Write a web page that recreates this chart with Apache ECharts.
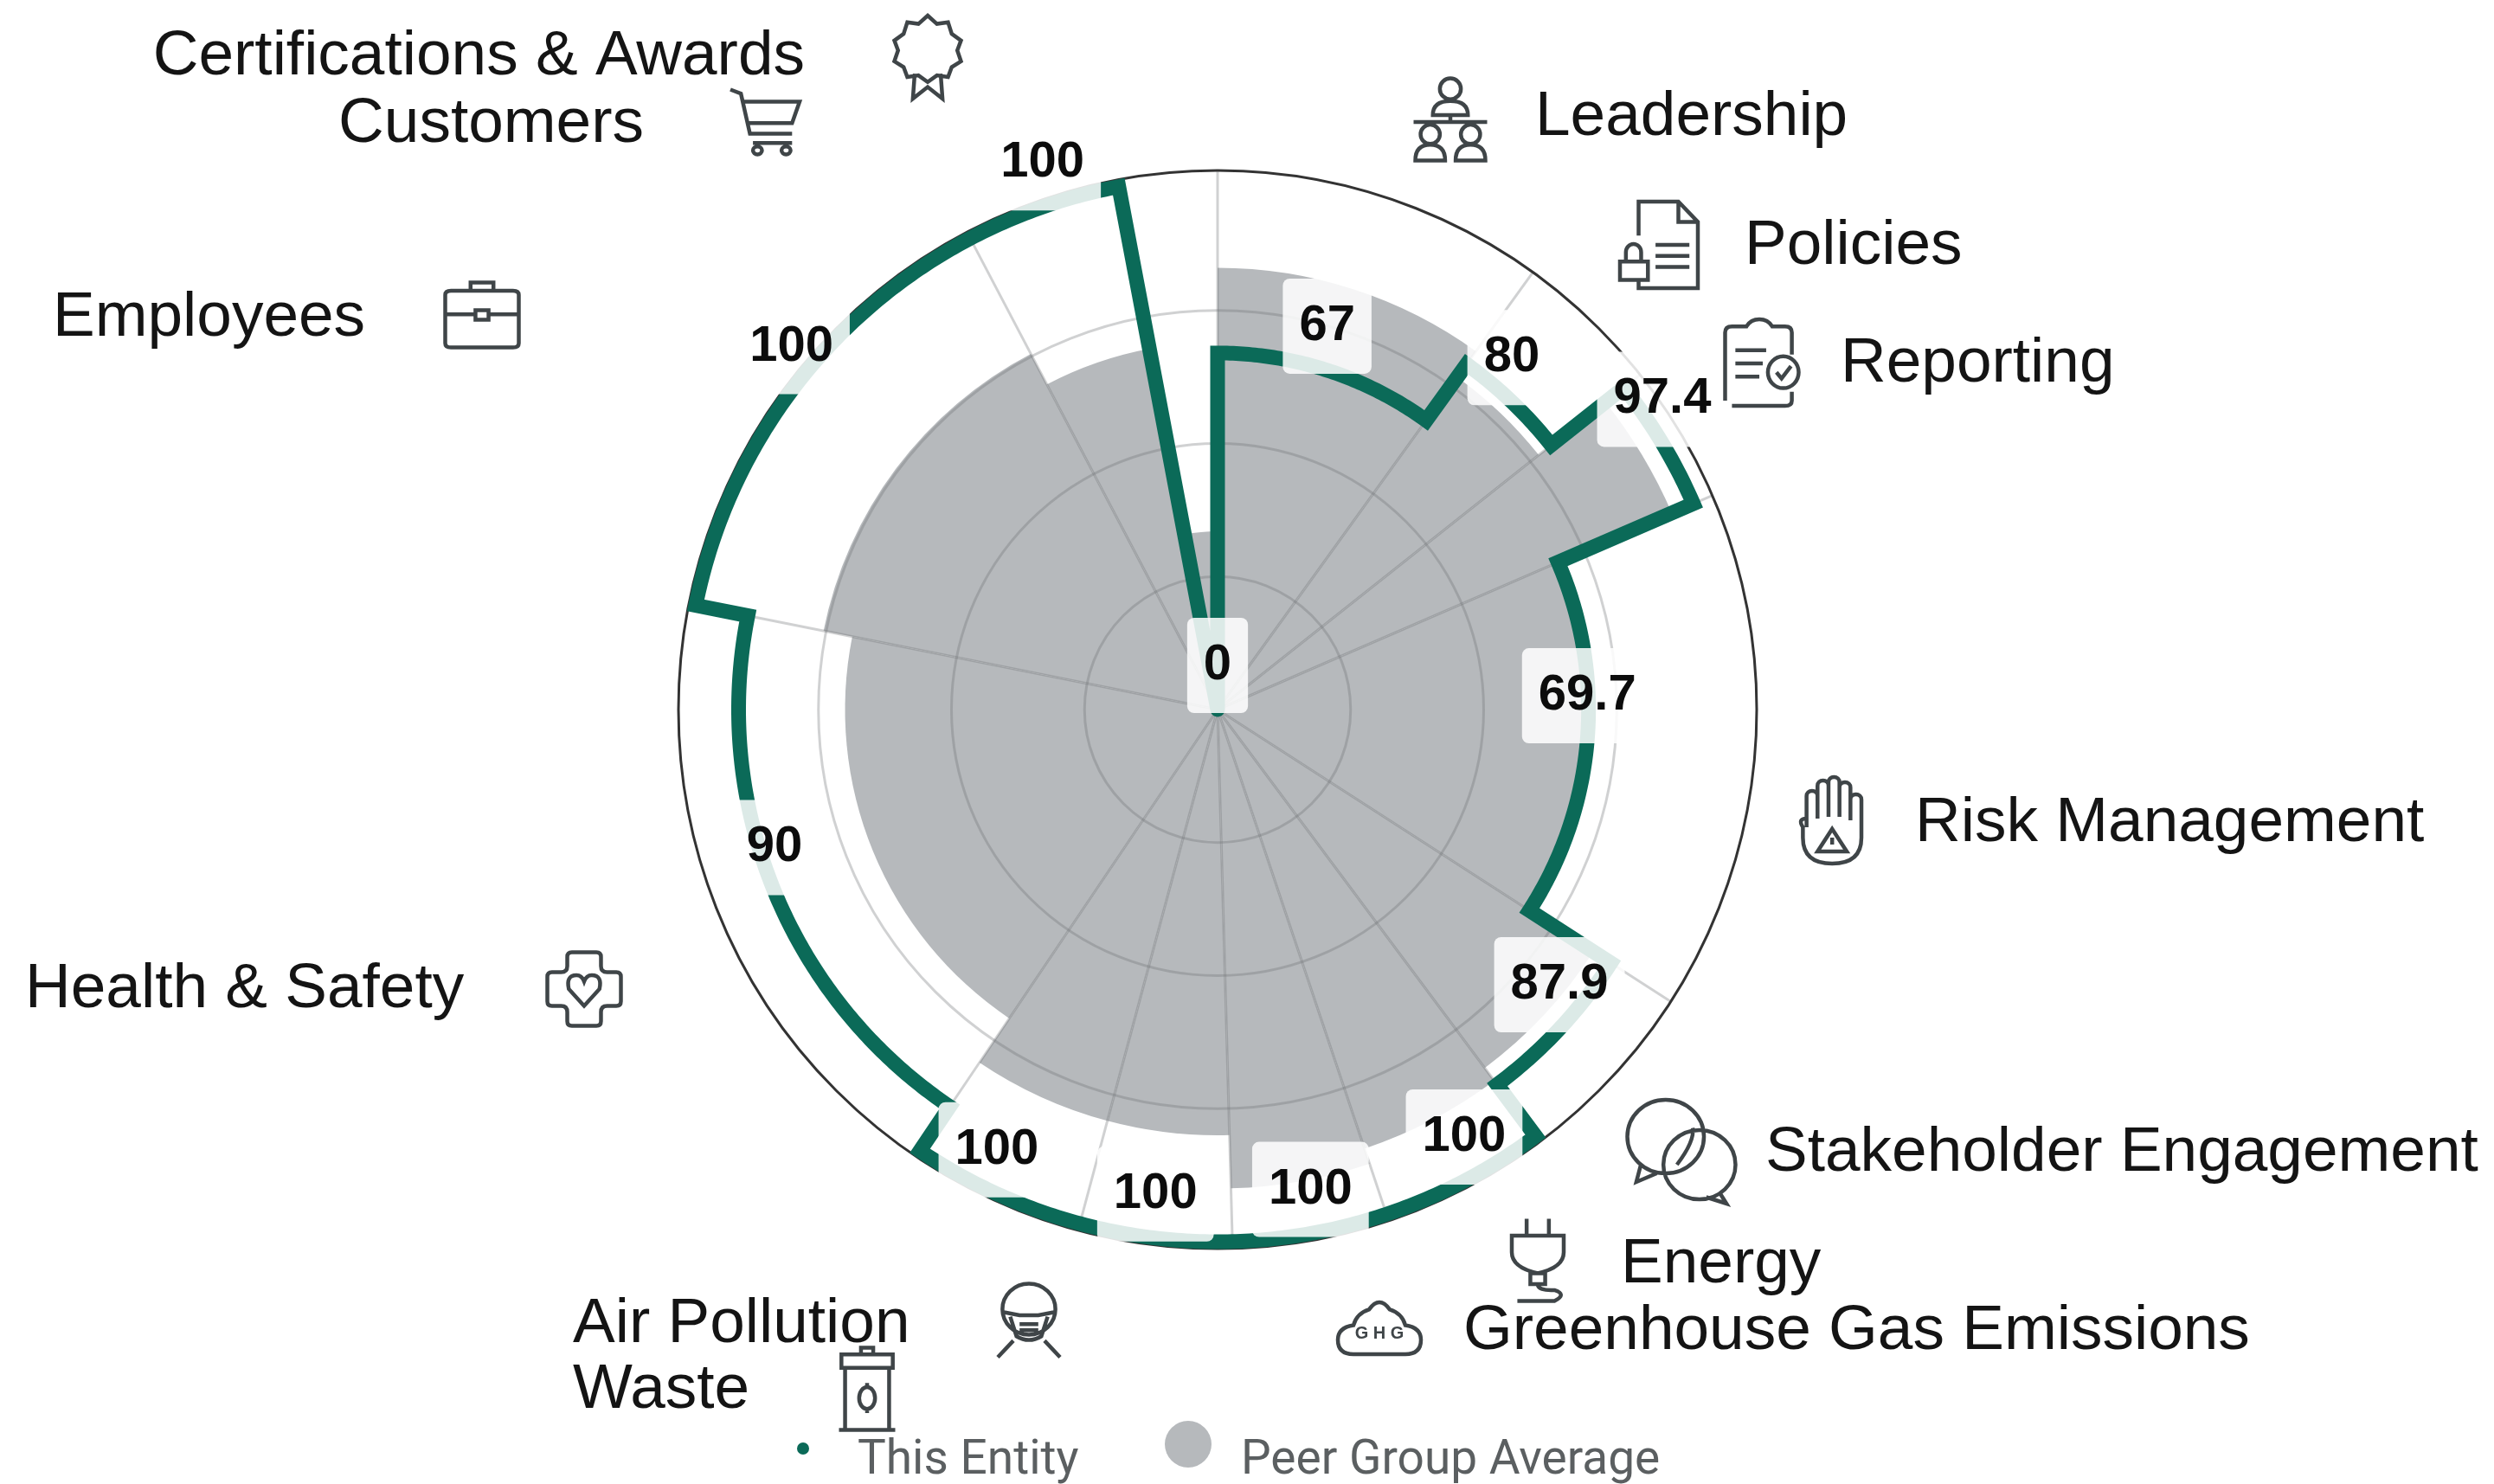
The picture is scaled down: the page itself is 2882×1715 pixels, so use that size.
<!DOCTYPE html>
<html>
<head>
<meta charset="utf-8">
<style>html,body{margin:0;padding:0;background:#fff}#main{width:2882px;height:1715px}</style>
<script src="https://cdn.jsdelivr.net/npm/echarts@6/dist/echarts.min.js"></script>
</head>
<body>
<div id="main"></div>
<script>
// clockwise from the top, one entry per topic
var categories = ['Leadership', 'Policies', 'Reporting', 'Risk Management', 'Stakeholder Engagement', 'Energy',
    'Greenhouse Gas Emissions', 'Air Pollution', 'Waste', 'Health & Safety', 'Employees', 'Customers', 'Certifications & Awards'];
var sectorEnds = [35.8, 51.6, 66.6, 122.8, 143.3, 161.5, 178.4, 195, 214, 281.3, 332.3, 349.3, 360];
var entityValues = [67, 80, 97.4, 69.7, 87.9, 100, 100, 100, 100, 90, 100, 100, 0];
var peerValues = [83, 77, 93, 70.5, 84, 87, 90, 80, 80, 70, 75.5, 69, 33.5];

var GREEN = '#0b6a58', GRAY = '#b6b9bc', ICON = '#3f4548';
var AXIS_MAX = 101.3;

// label placement: x, y, align, icon box centre x, y, w, h
var topicLayout = [
    [1774, 136, 'left', 1676, 138, 85, 95],
    [2016, 285, 'left', 1917, 283, 90, 100],
    [2127, 421, 'left', 2036, 419, 85, 100],
    [2213, 952, 'left', 2116, 948, 70, 100],
    [2040, 1333, 'left', 1943, 1331, 125, 120],
    [1873, 1462, 'left', 1777, 1456, 60, 95],
    [1691, 1539, 'left', 1594, 1535, 96, 60],
    [662, 1531, 'left', 1189, 1526, 72, 85],
    [662, 1607, 'left', 1002, 1605, 65, 95],
    [29, 1144, 'left', 675, 1143, 85, 85],
    [61, 368, 'left', 557, 364, 85, 75],
    [744, 144, 'right', 884, 141, 80, 75],
    [930, 66, 'right', 1072, 66, 77, 96]
];

function ring(x, y, r) {
    return 'M' + (x - r) + ' ' + y + 'a' + r + ' ' + r + ' 0 1 0 ' + (2 * r) + ' 0a' + r + ' ' + r + ' 0 1 0 ' + (-2 * r) + ' 0';
}

var iconPaths = [
    ring(50, 16, 12) + 'M30 46Q30 30 50 30Q70 30 70 46ZM50 46V54M8 54H92' + ring(27, 68, 11) + ring(73, 68, 11) + 'M10 98Q10 80 27 80Q44 80 44 98ZM56 98Q56 80 73 80Q90 80 90 98Z',
    'M25 40V3H72L95 25V97H25V88M72 3V25H95M45 50H85M45 62H85M45 74H85M3 68H36V88H3ZM10 68V58a9 9 0 0 1 18 0V68',
    'M10 92V15Q10 8 18 8H35Q40 0 50 0Q60 0 65 8H80Q88 8 88 15V40M88 82V92Q88 98 80 98H18M22 35H58M22 50H54M22 65H50' + ring(78, 60, 18) + 'M70 60L76 67L87 53',
    'M22 58V22a6 6 0 0 1 12 0V48M34 48V10a6 6 0 0 1 12 0V46M46 46V6a6 6 0 0 1 12 0V46M58 46V12a6 6 0 0 1 12 0V50M70 50V26a6 6 0 0 1 12 0V70Q82 100 50 100Q18 100 18 70V58Q12 48 22 48M50 60L66 86H34ZM50 70V78',
    ring(36, 36, 34) + 'M14 62L10 78L28 70' + ring(66, 62, 32) + 'M84 88L90 98L72 92M46 62Q62 40 60 28',
    'M38 0V20M62 0V20M22 20H78V40Q78 58 50 65Q22 58 22 40ZM42 65H58V78H42ZM50 78Q50 86 68 85Q82 90 68 98H28',
    'M20 98Q2 98 2 74Q2 54 20 50Q24 30 38 24Q50 0 62 24Q76 30 80 50Q98 54 98 74Q98 98 80 98Z',
    ring(50, 36, 34) + 'M18 40L38 44H62L82 40M26 46L34 72Q50 82 66 72L74 46M38 56H62M38 64H62M30 78L10 100M70 78L90 100',
    'M40 8V0H60V8M8 8H92V24H8ZM14 24V98H86V24M4 98H96' + ring(50, 60, 13) + 'M50 42V47M50 73V78',
    'M28 8Q28 2 34 2H66Q72 2 72 8V20Q72 28 80 28H92Q98 28 98 34V66Q98 72 92 72H80Q72 72 72 80V92Q72 98 66 98H34Q28 98 28 92V80Q28 72 20 72H8Q2 72 2 66V34Q2 28 8 28H20Q28 28 28 20ZM50 72L30 50Q26 32 40 32Q47 32 50 40Q53 32 60 32Q74 32 70 50Z',
    'M5 22Q5 16 12 16H88Q95 16 95 22V92Q95 98 88 98H12Q5 98 5 92ZM36 16V4H64V16M5 50H42M58 50H95M42 44H58V58H42Z',
    'M4 2L18 8L30 68H86M22 20H96L86 52H28M34 82H86' + ring(40, 93, 6) + ring(78, 93, 6),
    'M50 0L60 10L72 8L76 22L86 30L82 42L86 55L76 62L72 74L60 72L50 80L40 72L28 74L24 62L14 55L18 42L14 30L24 22L28 8L40 10ZM36 70L34 100L50 86L66 100L64 70'
];

function sectorStart(i) {
    return i === 0 ? 0 : sectorEnds[i - 1];
}

function rowData() {
    return categories.map(function (c, i) {
        return [sectorStart(i), sectorEnds[i], entityValues[i], peerValues[i]];
    });
}

// pixel distance from the centre for a given axis value
function toRadius(api, cs, value) {
    var p = api.coord([value, 0]);
    return Math.sqrt(Math.pow(p[0] - cs.cx, 2) + Math.pow(p[1] - cs.cy, 2));
}

var chart = echarts.init(document.getElementById('main'));

var graphicTexts = categories.map(function (c, i) {
    var l = topicLayout[i];
    return {
        type: 'text', x: l[0], y: l[1],
        style: { text: c, fontFamily: 'Liberation Sans', fontSize: 73, fill: '#141414', align: l[2], verticalAlign: 'middle' }
    };
});
graphicTexts.push({ type: 'text', x: 1594, y: 1541, style: { text: 'G H G', fontFamily: 'Liberation Sans', fontWeight: 'bold', fontSize: 20, fill: ICON, align: 'center', verticalAlign: 'middle' } });
// legend
graphicTexts.push({ type: 'circle', shape: { cx: 928, cy: 1674, r: 7 }, style: { fill: GREEN } });
graphicTexts.push({ type: 'text', x: 991, y: 1689, style: { text: 'This Entity', fontFamily: 'Roboto', fontSize: 55, fill: '#5b5f61', verticalAlign: 'middle' } });
graphicTexts.push({ type: 'circle', shape: { cx: 1373, cy: 1669, r: 27 }, style: { fill: GRAY } });
graphicTexts.push({ type: 'text', x: 1434, y: 1689, style: { text: 'Peer Group Average', fontFamily: 'Roboto', fontSize: 55, fill: '#5b5f61', verticalAlign: 'middle' } });

var gridColor = 'rgba(110,112,115,0.32)';

chart.setOption({
    backgroundColor: '#fff',
    animation: false,
    polar: { center: [1407, 820], radius: [0, 623] },
    angleAxis: {
        type: 'value', min: 0, max: 360, startAngle: 90, clockwise: true, z: 2,
        axisLine: { show: true, lineStyle: { color: '#333', width: 3 } },
        axisTick: { show: false }, axisLabel: { show: false }, splitLine: { show: false }
    },
    radiusAxis: {
        type: 'value', min: 0, max: AXIS_MAX, interval: 25, z: 2,
        axisLine: { show: false }, axisTick: { show: false }, axisLabel: { show: false },
        splitLine: { show: true, lineStyle: { width: 3, color: [gridColor, gridColor, gridColor, gridColor, 'transparent', 'transparent'] } }
    },
    graphic: { elements: graphicTexts },
    series: [
        {
            // peer group wedges
            name: 'Peer Group Average', type: 'custom', coordinateSystem: 'polar', z: 1, silent: true,
            data: rowData(),
            renderItem: function (params, api) {
                var cs = params.coordSys, i = params.dataIndex;
                return {
                    type: 'sector',
                    shape: {
                        cx: cs.cx, cy: cs.cy, r0: 0, r: toRadius(api, cs, peerValues[i]),
                        startAngle: (sectorStart(i) - 90) * Math.PI / 180,
                        endAngle: (sectorEnds[i] - 90) * Math.PI / 180,
                        clockwise: true
                    },
                    style: { fill: GRAY }
                };
            }
        },
        {
            // spokes at the sector edges
            type: 'custom', coordinateSystem: 'polar', z: 2, silent: true,
            data: rowData(),
            renderItem: function (params, api) {
                var a = sectorEnds[params.dataIndex];
                var p0 = api.coord([0, a]), p1 = api.coord([AXIS_MAX, a]);
                return {
                    type: 'line',
                    shape: { x1: p0[0], y1: p0[1], x2: p1[0], y2: p1[1] },
                    style: { stroke: gridColor, lineWidth: 3 }
                };
            }
        },
        {
            // this entity: one stepped outline
            name: 'This Entity', type: 'custom', coordinateSystem: 'polar', z: 3, silent: true,
            data: rowData(),
            renderItem: function (params, api) {
                if (params.dataIndex > 0) return null;
                var pts = [];
                for (var i = 0; i < categories.length; i++) {
                    var a0 = sectorStart(i), a1 = sectorEnds[i];
                    for (var a = a0; a < a1; a += 0.5) {
                        pts.push(api.coord([entityValues[i], a]));
                    }
                    pts.push(api.coord([entityValues[i], a1]));
                }
                pts.unshift(api.coord([0, 0]));
                return {
                    type: 'polyline',
                    shape: { points: pts },
                    style: { stroke: GREEN, lineWidth: 17, fill: null, lineJoin: 'miter', miterLimit: 6, lineCap: 'round' }
                };
            }
        },
        {
            // value tags, anchored at the middle of each arc
            type: 'custom', coordinateSystem: 'polar', z: 4, silent: true,
            data: rowData(),
            renderItem: function (params, api) {
                var i = params.dataIndex;
                var p = api.coord([entityValues[i], (sectorStart(i) + sectorEnds[i]) / 2]);
                return {
                    type: 'text',
                    x: p[0], y: p[1] - 51,
                    style: {
                        text: String(entityValues[i]), fontFamily: 'Liberation Sans', fontWeight: 'bold', fontSize: 58,
                        fill: '#0c0c0c', align: 'center', verticalAlign: 'middle',
                        backgroundColor: 'rgba(255,255,255,0.86)', padding: [31, 19, 21, 19], borderRadius: 8
                    }
                };
            }
        },
        {
            // line icons beside the topic names
            type: 'custom', coordinateSystem: 'none', z: 5, silent: true,
            data: categories.map(function (c, i) { return [i]; }),
            renderItem: function (params) {
                var l = topicLayout[params.dataIndex];
                return {
                    type: 'path',
                    shape: { pathData: iconPaths[params.dataIndex], x: l[3] - l[5] / 2, y: l[4] - l[6] / 2, width: l[5], height: l[6], layout: 'cover' },
                    style: { stroke: ICON, lineWidth: 4.5, fill: 'none' }
                };
            }
        }
    ]
});
</script>
</body>
</html>
